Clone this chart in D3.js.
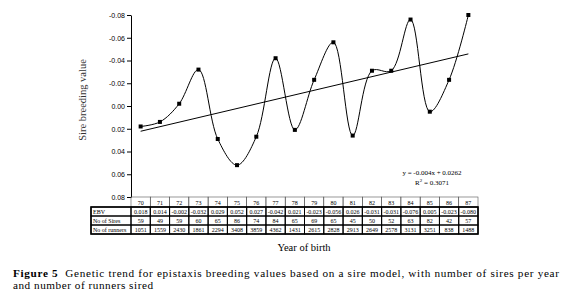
<!DOCTYPE html>
<html><head><meta charset="utf-8">
<script src="https://cdn.jsdelivr.net/npm/d3@7"></script>
<style>body{margin:0;background:#fff}svg{display:block}</style>
</head><body>
<svg id="c" width="562" height="302"></svg>
<script>
const years = ["70","71","72","73","74","75","76","77","78","79","80","81","82","83","84","85","86","87"];
const ebv = [0.018,0.014,-0.002,-0.032,0.029,0.052,0.027,-0.042,0.021,-0.023,-0.056,0.026,-0.031,-0.031,-0.076,0.005,-0.023,-0.080];
const sires = [59,49,59,60,65,86,74,84,65,69,65,45,50,52,63,82,42,57];
const runners = [1051,1559,2430,1861,2294,3408,3859,4362,1431,2615,2828,2913,2649,2578,3131,3251,838,1488];
const yTicks = [-0.08,-0.06,-0.04,-0.02,0.00,0.02,0.04,0.06,0.08];
const rowLabels = ["EBV","No of Sires","No of runners"];
const trendSlope = -0.004, trendIntercept = 0.0262;
const trendEq = "y = -0.004x + 0.0262";
const trendR2 = "0.3071";

const svg = d3.select("#c");
const serif = "'Liberation Serif','Times New Roman',serif";
const sans = "'Liberation Sans',Arial,sans-serif";

const x = d3.scaleBand().domain(years).range([131,478]);
const y = d3.scaleLinear().domain([-0.08,0.08]).range([15,197]);
const cx = d => x(d) + x.bandwidth()/2;

// y axis
const ax = svg.append("g").attr("transform","translate(131,0)")
  .call(d3.axisLeft(y).tickValues(yTicks).tickSize(4).tickSizeOuter(0).tickFormat(d=>d.toFixed(2)));
ax.select(".domain").attr("stroke","#000").attr("stroke-width",1);
ax.selectAll(".tick line").attr("stroke","#000");
ax.selectAll(".tick text").attr("font-family",sans).attr("font-size",7).attr("fill","#000").attr("x",-6);

svg.append("text").attr("transform","translate(86,100) rotate(-90)")
  .attr("text-anchor","middle").attr("font-family",serif).attr("font-size",10.5).attr("fill","#333")
  .text("Sire breeding value");

// trend line
const tr = years.map((yr,i)=>({yr, v: trendIntercept + trendSlope*(i+1)}));
svg.append("line")
  .attr("x1",cx(tr[0].yr)).attr("y1",y(tr[0].v))
  .attr("x2",cx(tr[tr.length-1].yr)).attr("y2",y(tr[tr.length-1].v))
  .attr("stroke","#000").attr("stroke-width",1);

// smoothed curve
const pts = years.map((yr,i)=>({yr, v: ebv[i]}));
svg.append("path").datum(pts)
  .attr("d", d3.line().x(d=>cx(d.yr)).y(d=>y(d.v)).curve(d3.curveCatmullRom.alpha(0.5)))
  .attr("fill","none").attr("stroke","#000").attr("stroke-width",1);
svg.selectAll("rect.m").data(pts).join("rect").attr("class","m")
  .attr("x",d=>cx(d.yr)-2).attr("y",d=>y(d.v)-2).attr("width",4).attr("height",4).attr("fill","#000");

// equation
svg.append("text").attr("x",432).attr("y",175).attr("text-anchor","middle")
  .attr("font-family",serif).attr("font-size",7).text(trendEq);
const r = svg.append("text").attr("x",432).attr("y",185).attr("text-anchor","middle")
  .attr("font-family",serif).attr("font-size",7);
r.append("tspan").text("R");
r.append("tspan").attr("dy",-3).attr("font-size",5).text("2");
r.append("tspan").attr("dy",3).text(" = " + trendR2);

// table
const hTop = 197, hBot = 207, rowH = 9;
const tbl = svg.append("g");
years.forEach(yr=>{
  tbl.append("rect").attr("x",x(yr)).attr("y",hTop).attr("width",x.bandwidth()).attr("height",hBot-hTop)
    .attr("fill","none").attr("stroke","#555").attr("stroke-width",0.6);
  tbl.append("text").attr("x",cx(yr)).attr("y",hBot-2.5).attr("text-anchor","middle")
    .attr("font-family",serif).attr("font-size",6).text(yr);
});
const rows = [ebv.map(v=>v.toFixed(3)), sires.map(String), runners.map(String)];
rows.forEach((vals,ri)=>{
  const top = hBot + ri*rowH;
  tbl.append("rect").attr("x",91).attr("y",top).attr("width",40).attr("height",rowH)
    .attr("fill","none").attr("stroke","#000").attr("stroke-width",1);
  tbl.append("text").attr("x",93).attr("y",top+rowH-2.5).attr("font-family",serif).attr("font-size",6)
    .text(rowLabels[ri]);
  years.forEach((yr,i)=>{
    tbl.append("rect").attr("x",x(yr)).attr("y",top).attr("width",x.bandwidth()).attr("height",rowH)
      .attr("fill","none").attr("stroke","#000").attr("stroke-width",1);
    tbl.append("text").attr("x",cx(yr)).attr("y",top+rowH-2.5).attr("text-anchor","middle")
      .attr("font-family",serif).attr("font-size",6).text(vals[i]);
  });
});
tbl.append("rect").attr("x",91).attr("y",hBot).attr("width",478-91).attr("height",rowH*3)
  .attr("fill","none").attr("stroke","#000").attr("stroke-width",1.5);

svg.append("text").attr("x",304).attr("y",251).attr("text-anchor","middle")
  .attr("font-family",serif).attr("font-size",10.5).text("Year of birth");

// caption
const c1 = svg.append("text").attr("x",13).attr("y",277).attr("font-family",serif).attr("font-size",11.2)
  .attr("textLength",546).attr("lengthAdjust","spacing");
c1.append("tspan").attr("font-weight","bold").text("Figure 5");
c1.append("tspan").text("\u00a0\u00a0Genetic trend for epistaxis breeding values based on a sire model, with number of sires per year");
svg.append("text").attr("x",13).attr("y",289).attr("font-family",serif).attr("font-size",11.2)
  .attr("textLength",140).attr("lengthAdjust","spacing")
  .text("and number of runners sired");
</script>
</body></html>
